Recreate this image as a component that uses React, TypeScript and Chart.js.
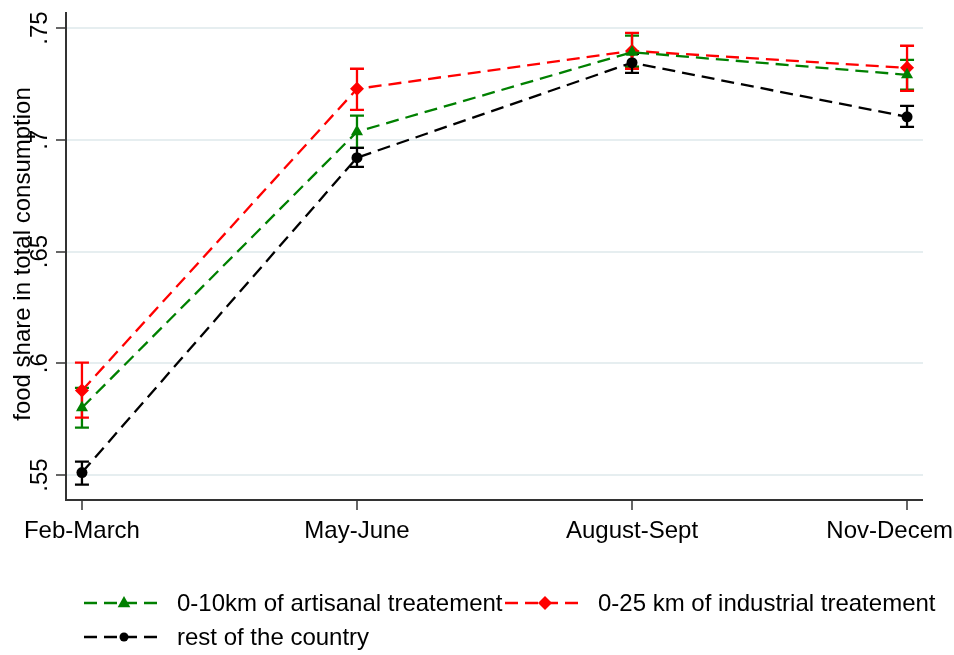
import React, { useEffect, useRef } from "react";
import { Chart, registerables } from "chart.js";

Chart.register(...registerables);

const categories = ["Feb-March", "May-June", "August-Sept", "Nov-December"];
const yTicks = [0.55, 0.6, 0.65, 0.7, 0.75];
const yTickLabels = [".55", ".6", ".65", ".7", ".75"];

const artisanal = [0.5801, 0.7036, 0.7392, 0.7291];
const artisanalLow = [0.5712, 0.6964, 0.7327, 0.7224];
const artisanalHigh = [0.589, 0.7108, 0.7466, 0.7358];

const industrial = [0.5878, 0.7228, 0.7398, 0.7322];
const industrialLow = [0.5757, 0.7134, 0.7318, 0.7219];
const industrialHigh = [0.6003, 0.7318, 0.7479, 0.7421];

const rest = [0.5511, 0.692, 0.7345, 0.7103];
const restLow = [0.5457, 0.6879, 0.73, 0.7058];
const restHigh = [0.556, 0.6964, 0.7385, 0.7152];

const seriesNames = [
  "0-10km of artisanal treatement",
  "0-25 km of industrial treatement",
  "rest of the country",
];
const yTitle = "food share in total consumption";

const FONT = '24px "Liberation Sans", Arial, sans-serif';
const GREEN = "#008000";
const RED = "#ff0000";
const BLACK = "#000000";
const DASH = [13, 7];
const LW = 2.3;

const errorData = [
  { low: artisanalLow, high: artisanalHigh, color: GREEN },
  { low: industrialLow, high: industrialHigh, color: RED },
  { low: restLow, high: restHigh, color: BLACK },
];

function drawMarker(ctx: CanvasRenderingContext2D, style: string, x: number, y: number, r: number, color: string) {
  ctx.save();
  ctx.fillStyle = color;
  ctx.beginPath();
  if (style === "triangle") {
    ctx.moveTo(x, y - r);
    ctx.lineTo(x + r * 0.9, y + r * 0.6);
    ctx.lineTo(x - r * 0.9, y + r * 0.6);
  } else if (style === "rectRot") {
    ctx.moveTo(x, y - r);
    ctx.lineTo(x + r, y);
    ctx.lineTo(x, y + r);
    ctx.lineTo(x - r, y);
  } else {
    ctx.arc(x, y, r, 0, Math.PI * 2);
  }
  ctx.closePath();
  ctx.fill();
  ctx.restore();
}

const framePlugin = {
  id: "frame",
  beforeDatasetsDraw(chart: any) {
    const { ctx, chartArea, scales } = chart;
    const xs = scales.x;
    const ys = scales.y;
    ctx.save();
    // grid lines
    ctx.strokeStyle = "#e6eef0";
    ctx.lineWidth = 2;
    yTicks.forEach((t) => {
      const py = Math.round(ys.getPixelForValue(t));
      ctx.beginPath();
      ctx.moveTo(chartArea.left, py);
      ctx.lineTo(chartArea.right, py);
      ctx.stroke();
    });
    // axes
    ctx.strokeStyle = "#333333";
    ctx.lineWidth = 2;
    ctx.beginPath();
    ctx.moveTo(chartArea.left, chartArea.top);
    ctx.lineTo(chartArea.left, chartArea.bottom);
    ctx.lineTo(chartArea.right, chartArea.bottom);
    ctx.stroke();
    ctx.lineWidth = 1.5;
    yTicks.forEach((t) => {
      const py = Math.round(ys.getPixelForValue(t));
      ctx.beginPath();
      ctx.moveTo(chartArea.left - 10, py);
      ctx.lineTo(chartArea.left, py);
      ctx.stroke();
    });
    categories.forEach((_, i) => {
      const px = Math.round(xs.getPixelForValue(i));
      ctx.beginPath();
      ctx.moveTo(px, chartArea.bottom);
      ctx.lineTo(px, chartArea.bottom + 10);
      ctx.stroke();
    });
    // labels
    ctx.fillStyle = "#000";
    ctx.font = FONT;
    ctx.textAlign = "center";
    ctx.textBaseline = "alphabetic";
    categories.forEach((c, i) => {
      ctx.fillText(c, xs.getPixelForValue(i), 538);
    });
    yTicks.forEach((t, i) => {
      const py = ys.getPixelForValue(t);
      ctx.save();
      ctx.translate(47, py);
      ctx.rotate(-Math.PI / 2);
      ctx.fillText(yTickLabels[i], 0, 0);
      ctx.restore();
    });
    ctx.save();
    ctx.translate(30, (chartArea.top + chartArea.bottom) / 2 - 2);
    ctx.rotate(-Math.PI / 2);
    ctx.fillText(yTitle, 0, 0);
    ctx.restore();
    // error bars
    ctx.lineWidth = 2.3;
    errorData.forEach((e) => {
      ctx.strokeStyle = e.color;
      e.low.forEach((lo, i) => {
        const px = xs.getPixelForValue(i);
        const pl = ys.getPixelForValue(lo);
        const ph = ys.getPixelForValue(e.high[i]);
        ctx.beginPath();
        ctx.moveTo(px, pl);
        ctx.lineTo(px, ph);
        ctx.moveTo(px - 7, pl);
        ctx.lineTo(px + 7, pl);
        ctx.moveTo(px - 7, ph);
        ctx.lineTo(px + 7, ph);
        ctx.stroke();
      });
    });
    ctx.restore();
  },
  afterDraw(chart: any) {
    const { ctx } = chart;
    const items = [
      { x: 84, y: 603, color: GREEN, style: "triangle", r: 7 },
      { x: 505, y: 603, color: RED, style: "rectRot", r: 7 },
      { x: 84, y: 637, color: BLACK, style: "circle", r: 4.5 },
    ];
    ctx.save();
    items.forEach((it, i) => {
      ctx.strokeStyle = it.color;
      ctx.lineWidth = LW;
      ctx.setLineDash(DASH);
      ctx.beginPath();
      ctx.moveTo(it.x, it.y);
      ctx.lineTo(it.x + 80, it.y);
      ctx.stroke();
      ctx.setLineDash([]);
      drawMarker(ctx, it.style, it.x + 40, it.y, it.r, it.color);
      ctx.fillStyle = "#000";
      ctx.font = FONT;
      ctx.textAlign = "left";
      ctx.textBaseline = "middle";
      ctx.fillText(seriesNames[i], it.x + 93, it.y + 1);
    });
    ctx.restore();
  },
};

export default function App() {
  const ref = useRef<HTMLCanvasElement | null>(null);
  useEffect(() => {
    document.body.style.margin = "0";
    const toPts = (arr: number[]) => arr.map((v, i) => ({ x: i, y: v }));
    const chart = new Chart(ref.current as HTMLCanvasElement, {
      type: "line",
      data: {
        datasets: [
          {
            label: seriesNames[0],
            data: toPts(artisanal),
            borderColor: GREEN,
            backgroundColor: GREEN,
            borderWidth: LW,
            borderDash: DASH,
            pointStyle: "triangle",
            pointRadius: 7,
            pointBorderWidth: 0,
          },
          {
            label: seriesNames[1],
            data: toPts(industrial),
            borderColor: RED,
            backgroundColor: RED,
            borderWidth: LW,
            borderDash: DASH,
            pointStyle: "rectRot",
            pointRadius: 7,
            pointBorderWidth: 0,
          },
          {
            label: seriesNames[2],
            data: toPts(rest),
            borderColor: BLACK,
            backgroundColor: BLACK,
            borderWidth: LW,
            borderDash: DASH,
            pointStyle: "circle",
            pointRadius: 5.5,
            pointBorderWidth: 0,
          },
        ],
      },
      options: {
        responsive: false,
        animation: false,
        layout: { autoPadding: false, padding: { left: 66, top: 12, right: 31, bottom: 155 } },
        plugins: { legend: { display: false }, tooltip: { enabled: false } },
        scales: {
          x: { type: "linear", display: false, min: -0.058, max: 3.058 },
          y: { type: "linear", display: false, min: 0.5388, max: 0.7572 },
        },
      },
      plugins: [framePlugin],
    } as any);
    return () => chart.destroy();
  }, []);
  return (
    <div style={{ position: "absolute", left: 0, top: 0, width: 954, height: 655, background: "#fff" }}>
      <canvas ref={ref} width={954} height={655} style={{ display: "block" }} />
    </div>
  );
}
